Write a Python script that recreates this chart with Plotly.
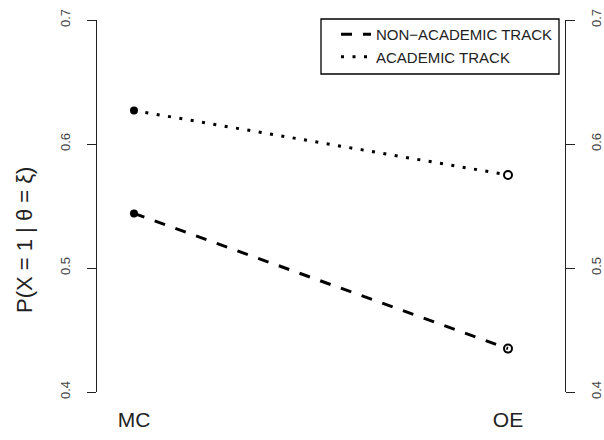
import plotly.graph_objects as go

categories = ["MC", "OE"]
non_academic = [0.544, 0.435]
academic = [0.627, 0.575]
y_ticks = [0.4, 0.5, 0.6, 0.7]
series_names = ["NON\u2212ACADEMIC TRACK", "ACADEMIC TRACK"]

W, H = 604, 440
L, R, T, B = 97, 39, 20, 48
PW, PH = W - L - R, H - T - B
FONT = "Liberation Sans, Arial, sans-serif"
INK = "#222222"

def px_x(p):
    return (p - L) / PW

def px_y(p):
    return (H - B - p) / PH

fig = go.Figure()

def add_series(vals, name, dash):
    fig.add_trace(go.Scatter(
        x=categories, y=vals, mode="lines", name=name,
        line=dict(color="black", width=3, dash=dash),
        showlegend=True,
    ))
    fig.add_trace(go.Scatter(
        x=categories[:1], y=vals[:1], mode="markers", showlegend=False,
        marker=dict(symbol="circle", size=8, color="black"),
        hoverinfo="skip",
    ))
    fig.add_trace(go.Scatter(
        x=categories[1:], y=vals[1:], mode="markers", showlegend=False,
        marker=dict(symbol="circle-open", size=8, color="black",
                    line=dict(width=2, color="black")),
        hoverinfo="skip",
    ))

add_series(non_academic, series_names[0], "11px,11px")
add_series(academic, series_names[1], "3px,8.5px")

# invisible trace for the right axis
fig.add_trace(go.Scatter(x=categories, y=academic, yaxis="y2", mode="markers",
                         marker=dict(opacity=0), showlegend=False, hoverinfo="skip"))

px_per_unit = 374
x_lo = -(134 - L) / px_per_unit
x_hi = 1 + (W - R - 508) / px_per_unit

axis_common = dict(
    range=[0.4, 0.7], tickvals=y_ticks, ticktext=[str(v) for v in y_ticks],
    ticks="outside", ticklen=9, tickwidth=1.3, tickcolor=INK,
    showline=True, linecolor=INK, linewidth=1.3,
    showgrid=False, zeroline=False, tickangle=-90, automargin=False,
    tickfont=dict(family=FONT, size=13, color="#444444"),
)

fig.update_layout(
    width=W, height=H,
    margin=dict(l=L, r=R, t=T, b=B, autoexpand=False),
    paper_bgcolor="white", plot_bgcolor="white",
    font=dict(family=FONT, color=INK),
    xaxis=dict(type="category", range=[x_lo, x_hi], showline=False, showgrid=False,
               zeroline=False, ticks="", automargin=False,
               tickfont=dict(family=FONT, size=21, color=INK),
               ticklabelstandoff=13),
    yaxis=dict(**axis_common, ticklabelstandoff=12),
    yaxis2=dict(**axis_common, overlaying="y", side="right", anchor="x",
                ticklabelstandoff=10),
    legend=dict(x=px_x(336), y=px_y(18), xanchor="left", yanchor="top",
                borderwidth=0, bgcolor="rgba(0,0,0,0)",
                font=dict(family=FONT, size=15, color=INK),
                tracegroupgap=0, itemwidth=30),
    showlegend=True,
)

# legend frame
fig.add_shape(type="rect", xref="paper", yref="paper",
              x0=px_x(321), x1=px_x(559), y0=px_y(74), y1=px_y(19),
              line=dict(color="black", width=1.3), fillcolor="white", layer="below")

fig.add_annotation(
    text="P(X = 1 | \u03b8 = \u03be)", xref="paper", yref="paper",
    x=px_x(25), y=px_y(240),
    textangle=-90, showarrow=False, font=dict(family=FONT, size=22, color=INK),
    xanchor="center", yanchor="middle",
)

fig.write_html("out.html", config={"displayModeBar": False},
               post_script="document.body.style.margin='0px';document.body.style.overflow='hidden';")
